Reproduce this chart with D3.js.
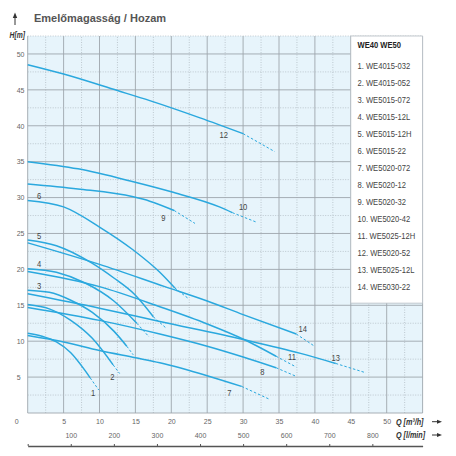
<!DOCTYPE html>
<html>
<head>
<meta charset="utf-8">
<script src="https://cdn.jsdelivr.net/npm/d3@7"></script>
<style>
  body { margin: 0; background: #fff; }
  svg { display: block; }
</style>
</head>
<body>
<svg id="chart" width="456" height="456"></svg>
<script>
// tick values
const qTicks = [5, 10, 15, 20, 25, 30, 35, 40, 45, 50];
const hTicks = [5, 10, 15, 20, 25, 30, 35, 40, 45, 50];
const lminTicks = [0, 100, 200, 300, 400, 500, 600, 700, 800];

const legendTitle = "WE40 WE50";
const pumpNames = [
  "1. WE4015-032", "2. WE4015-052", "3. WE5015-072", "4. WE5015-12L",
  "5. WE5015-12H", "6. WE5015-22", "7. WE5020-072", "8. WE5020-12",
  "9. WE5020-32", "10. WE5020-42", "11. WE5025-12H", "12. WE5020-52",
  "13. WE5025-12L", "14. WE5030-22"
];

// [Q m3/h, H m]; last point = end of the dashed part
const curve1 = [[0, 11.1], [2, 10.7], [4, 9.9], [6, 8.4], [8, 5.9], [8.7, 4.9], [9.9, 3.2]];
const curve2 = [[0, 15.1], [3, 14.5], [6, 12.9], [9, 10.4], [11.9, 6.7], [12.8, 5.5]];
const curve3 = [[0, 17.1], [3, 16.8], [6, 15.7], [9, 14.0], [12, 11.4], [13.8, 9.3], [14.7, 8.1]];
const curve4 = [[0, 20.1], [4, 19.6], [8, 18.1], [12, 15.6], [15.2, 12.5], [16.9, 10.6]];
const curve5 = [[0, 24.1], [4, 23.3], [8.9, 20.9], [12, 18.8], [14.9, 16.5], [17.5, 13.4], [19.3, 11.8]];
const curve6 = [[0, 29.6], [5, 28.7], [10, 25.9], [14.7, 22.7], [18.4, 19.6], [20.5, 17.4], [22.3, 16.0]];
const curve7 = [[0, 10.8], [5, 9.9], [10, 8.7], [15, 7.7], [18.4, 7.0], [25, 5.2], [29.8, 3.7], [33.7, 1.9]];
const curve8 = [[0, 14.7], [10, 12.9], [18.4, 11.0], [25, 9.3], [30, 7.8], [34.6, 6.3], [37.4, 5.1]];
const curve9 = [[0, 31.9], [7, 31.2], [14.7, 30.1], [17, 29.5], [20.4, 28.2], [23.3, 26.4]];
const curve10 = [[0, 35.0], [7, 34.0], [14.7, 32.2], [20, 30.8], [26.7, 28.7], [28.5, 27.9], [31.8, 26.6]];
const curve11 = [[0, 19.7], [10, 17.6], [18.4, 14.8], [25, 12.4], [30.2, 10.2], [34.6, 7.9], [37.4, 6.4]];
const curve12 = [[0, 48.5], [5, 47.2], [12.5, 44.9], [17, 43.5], [24, 41.1], [30, 38.9], [34.4, 36.4]];
const curve13 = [[0, 16.6], [10, 14.6], [18.4, 12.75], [30.2, 10.2], [38, 8.3], [42.9, 6.9], [47.1, 5.6]];
const curve14 = [[0, 23.7], [10, 20.7], [19.1, 17.6], [25, 15.6], [30, 13.7], [37.4, 11.0], [39.8, 9.4]];

// where the curve numbers sit
const labelQ = [9.1, 11.8, 1.6, 1.6, 1.6, 1.6, 28.1, 32.7, 18.9, 30.0, 36.8, 27.3, 42.9, 38.3];
const labelH = [2.8, 5.1, 17.7, 20.8, 24.65, 30.2, 2.8, 5.7, 27.25, 28.8, 7.8, 38.7, 7.7, 11.8];

const curves = [curve1, curve2, curve3, curve4, curve5, curve6, curve7,
  curve8, curve9, curve10, curve11, curve12, curve13, curve14];

const blue = "#2aa8de";
const sans = "'Liberation Sans', Arial, sans-serif";
// no narrow font installed: squeeze Liberation Sans sideways instead
const squeeze = 0.8;

const svg = d3.select("#chart");

const x = d3.scaleLinear().domain([0, 55]).range([27.7, 422.6]);
const y = d3.scaleLinear().domain([0, 52.5]).range([413, 36]);
// l/min axis shares the same pixels (1 m3/h = 1000/60 l/min)
const xl = d3.scaleLinear().domain([0, 55 * 1000 / 60]).range(x.range());

function narrowText(g, tx, ty) {
  return g.append("text")
    .attr("transform", "translate(" + tx + "," + ty + ") scale(" + squeeze + ",1)")
    .attr("font-family", sans);
}

// title
svg.append("text")
  .attr("x", 34).attr("y", 21.5)
  .attr("font-family", sans).attr("font-weight", "bold")
  .attr("font-size", 11).attr("fill", "#555")
  .text("Emelőmagasság / Hozam");

// up arrow
svg.append("line").attr("x1", 15).attr("x2", 15).attr("y1", 25).attr("y2", 16)
  .attr("stroke", "#333").attr("stroke-width", 1);
svg.append("path").attr("d", "M15,12.5 L12.8,18 L17.2,18 Z").attr("fill", "#333");

narrowText(svg, 9.5, 38)
  .attr("font-weight", "bold").attr("font-style", "italic")
  .attr("font-size", 8.5).attr("fill", "#333")
  .text("H[m]");

// plot background
svg.append("rect")
  .attr("x", x(0)).attr("y", y(52.5))
  .attr("width", x(55) - x(0)).attr("height", y(0) - y(52.5))
  .attr("fill", "#e7f4fb");

// grid
const grid = svg.append("g");
d3.range(0, 55.01, 2.5).forEach(v => {
  const major = v % 5 === 0;
  grid.append("line")
    .attr("x1", x(v)).attr("x2", x(v)).attr("y1", y(0)).attr("y2", y(52.5))
    .attr("stroke", major ? "#9ea6ad" : "#b3bcc4")
    .attr("stroke-width", major ? 0.9 : 0.8)
    .attr("stroke-dasharray", major ? null : "1,1.5");
});
d3.range(0, 52.51, 2.5).forEach(v => {
  const major = v % 5 === 0;
  grid.append("line")
    .attr("x1", x(0)).attr("x2", x(55)).attr("y1", y(v)).attr("y2", y(v))
    .attr("stroke", major ? "#9ea6ad" : "#b3bcc4")
    .attr("stroke-width", major ? 0.9 : 0.8)
    .attr("stroke-dasharray", major ? null : "1,1.5");
});

// curves
const line = d3.line().x(d => x(d[0])).y(d => y(d[1])).curve(d3.curveMonotoneX);
const straight = d3.line().x(d => x(d[0])).y(d => y(d[1]));

curves.forEach(c => {
  svg.append("path")
    .attr("d", line(c.slice(0, c.length - 1)))
    .attr("fill", "none").attr("stroke", blue).attr("stroke-width", 1.5);
  svg.append("path")
    .attr("d", straight(c.slice(c.length - 2)))
    .attr("fill", "none").attr("stroke", blue).attr("stroke-width", 1)
    .attr("stroke-dasharray", "2.5,2");
});

// curve numbers
labelQ.forEach((q, i) => {
  narrowText(svg, x(q), y(labelH[i]))
    .attr("text-anchor", "middle")
    .attr("dominant-baseline", "central")
    .attr("font-size", 9.5).attr("fill", "#444")
    .text(i + 1);
});

// legend box
const lg = svg.append("g");
lg.append("rect")
  .attr("x", x(45)).attr("y", y(52.5))
  .attr("width", x(55) - x(45)).attr("height", y(15.3) - y(52.5))
  .attr("fill", "#fff").attr("stroke", "#b5bcc2").attr("stroke-width", 0.8);
narrowText(lg, 357.5, 48)
  .attr("font-weight", "bold")
  .attr("font-size", 9.5).attr("fill", "#222")
  .text(legendTitle);
pumpNames.forEach((name, i) => {
  narrowText(lg, 357.5, 69 + i * 17)
    .attr("font-size", 9.5).attr("fill", "#444")
    .text(name);
});

// y axis labels
const yAxis = svg.append("g")
  .attr("transform", "translate(" + x(0) + ",0)")
  .call(d3.axisLeft(y).tickValues(hTicks).tickSize(0));
yAxis.select(".domain").remove();
yAxis.selectAll("text")
  .attr("x", -11).attr("text-anchor", "start")
  .attr("font-family", sans).attr("font-size", 7).attr("fill", "#666");

// Q m3/h labels
const xAxis = svg.append("g")
  .attr("transform", "translate(0," + y(0) + ")")
  .call(d3.axisBottom(x).tickValues(qTicks).tickSize(0).tickPadding(6));
xAxis.select(".domain").remove();
xAxis.selectAll("text")
  .attr("font-family", sans).attr("font-size", 7).attr("fill", "#666");

svg.append("text")
  .attr("x", 16.7).attr("y", y(0) + 11)
  .attr("text-anchor", "middle")
  .attr("font-family", sans).attr("font-size", 7).attr("fill", "#666")
  .text("0");

// l/min axis
const lAxis = svg.append("g")
  .attr("transform", "translate(0,446)")
  .call(d3.axisTop(xl).tickValues(lminTicks).tickSize(2).tickSizeOuter(0).tickPadding(6)
    .tickFormat(d => d === 0 ? "" : d));
lAxis.select(".domain").attr("stroke", "#555").attr("stroke-width", 1.5);
lAxis.selectAll(".tick line").attr("stroke", "#555");
lAxis.selectAll("text")
  .attr("font-family", sans).attr("font-size", 7).attr("fill", "#666");

// axis titles with arrows
function axisTitle(ty, label) {
  narrowText(svg, 396, ty + 3)
    .attr("font-weight", "bold").attr("font-style", "italic")
    .attr("font-size", 9).attr("fill", "#333")
    .text(label);
  svg.append("line").attr("x1", 432).attr("x2", 438).attr("y1", ty).attr("y2", ty)
    .attr("stroke", "#333").attr("stroke-width", 1);
  svg.append("path")
    .attr("d", "M442," + ty + " L437," + (ty - 2) + " L437," + (ty + 2) + " Z")
    .attr("fill", "#333");
}
axisTitle(421.7, "Q [m³/h]");
axisTitle(435, "Q [l/min]");
</script>
</body>
</html>
